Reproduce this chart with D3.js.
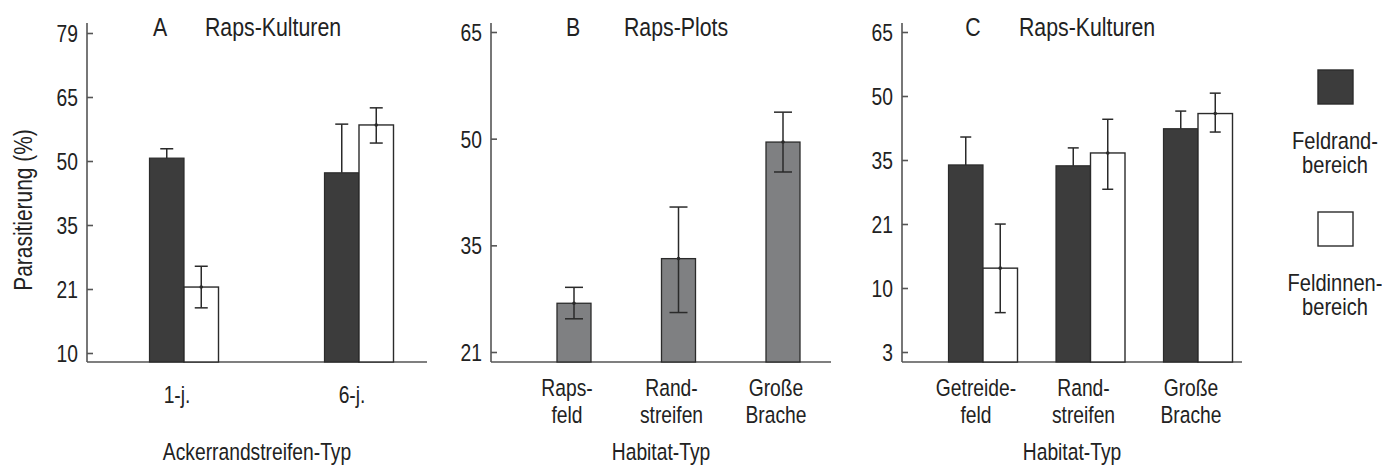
<!DOCTYPE html>
<html>
<head>
<meta charset="utf-8">
<script src="https://cdn.jsdelivr.net/npm/d3@7"></script>
<style>
  html, body { margin: 0; padding: 0; background: #fff; }
  svg { display: block; }
  text { font-family: "Liberation Sans", Arial, Helvetica, sans-serif; fill: #222; }
</style>
</head>
<body>
<svg id="chart" width="1382" height="465"></svg>
<script>
// ---------- DATA (percent parasitism; axis is arcsine-sqrt scaled) ----------
// Panel A – Raps-Kulturen by Ackerrandstreifen-Typ
const aCategories = ["1-j.", "6-j."];
const aFeldrand = [50.7, 47.1];
const aFeldrandUpper = [53.0, 59.0];
const aFeldinnen = [21.0, 58.8];
const aFeldinnenUpper = [25.3, 62.9];
const aFeldinnenLower = [17.0, 54.4];
const aTickLabels = ["10", "21", "35", "50", "65", "79"];
const aTickDeg = [18, 27, 36, 45, 54, 63];

// Panel B – Raps-Plots by Habitat-Typ
const bCategories = ["Raps-|feld", "Rand-|streifen", "Große|Brache"];
const bValues = [26.7, 32.7, 49.5];
const bUpper = [28.8, 40.0, 53.9];
const bLower = [24.7, 25.5, 45.1];
const bTickLabels = ["21", "35", "50", "65"];
const bTickDeg = [27, 36, 45, 54];

// Panel C – Raps-Kulturen by Habitat-Typ
const cCategories = ["Getreide-|feld", "Rand-|streifen", "Große|Brache"];
const cFeldrand = [33.4, 33.2, 42.0];
const cFeldrandUpper = [40.0, 37.4, 46.3];
const cFeldinnen = [12.6, 36.2, 45.7];
const cFeldinnenUpper = [20.6, 44.3, 50.7];
const cFeldinnenLower = [6.3, 27.9, 41.2];
const cTickLabels = ["3", "10", "21", "35", "50", "65"];
const cTickDeg = [9, 18, 27, 36, 45, 54];

const legendLabels = ["Feldrand-|bereich", "Feldinnen-|bereich"];

// ---------- STYLE ----------
const DARK = "#3c3c3c";
const GREY = "#7f8082";
const AXIS = "#555";
const LINE = "#2a2a2a";
const FS = 23.5;
const TS = 26;
const SX = 0.82; // horizontal condensing (Helvetica Condensed look)

const asinDeg = p => Math.asin(Math.sqrt(p / 100)) * 180 / Math.PI;
const svg = d3.select("#chart");

function addText(parent, x, y, str, size, anchor = "middle", rotate = 0) {
  return parent.append("text")
    .attr("transform", `translate(${x},${y}) rotate(${rotate}) scale(${SX},1)`)
    .attr("text-anchor", anchor).style("font-size", size + "px").text(str);
}

function drawAxis(cfg) {
  const g = svg.append("g");
  const y = d3.scaleLinear().domain(cfg.deg).range(cfg.range);
  g.append("line").attr("x1", cfg.x0).attr("x2", cfg.x0).attr("y1", cfg.top).attr("y2", cfg.base)
    .attr("stroke", AXIS).attr("stroke-width", 1.6);
  g.append("line").attr("x1", cfg.x0).attr("x2", cfg.x1).attr("y1", cfg.base).attr("y2", cfg.base)
    .attr("stroke", AXIS).attr("stroke-width", 1.6);
  const ax = d3.axisRight(y).tickValues(cfg.tickDeg).tickFormat((d, i) => cfg.labels[i]).tickSize(6).tickPadding(0);
  const ag = g.append("g").attr("transform", `translate(${cfg.x0},0)`).call(ax);
  ag.select(".domain").remove();
  ag.selectAll(".tick line").attr("stroke", AXIS).attr("stroke-width", 1.6);
  ag.selectAll(".tick text").attr("x", 0).attr("dy", "0.36em").attr("text-anchor", "end")
    .attr("transform", `translate(-9,0) scale(${SX},1)`)
    .style("font-size", FS + "px").attr("fill", "#222");
  return { g, y };
}

function errBar(g, x, yTop, yBot, cap, lowerCap) {
  g.append("line").attr("x1", x).attr("x2", x).attr("y1", yTop).attr("y2", yBot).attr("stroke", LINE).attr("stroke-width", 1.5);
  g.append("line").attr("x1", x - cap / 2).attr("x2", x + cap / 2).attr("y1", yTop).attr("y2", yTop).attr("stroke", LINE).attr("stroke-width", 1.5);
  if (lowerCap)
    g.append("line").attr("x1", x - cap / 2).attr("x2", x + cap / 2).attr("y1", yBot).attr("y2", yBot).attr("stroke", LINE).attr("stroke-width", 1.5);
}

function catLabels(g, xs, cats, y1, y2) {
  cats.forEach((c, i) => {
    const lines = c.split("|");
    const cx = xs(i) - 7;
    if (lines.length > 1) {
      addText(g, cx, y1, lines[0], FS);
      addText(g, cx, y2, lines[1], FS);
    } else {
      addText(g, cx, y1 + 7, lines[0], FS);
    }
  });
}

// ---------- PANEL A ----------
{
  const cfg = { x0: 87, x1: 427, top: 23, base: 362, deg: [18, 63], range: [353, 33], tickDeg: aTickDeg, labels: aTickLabels };
  const { g, y } = drawAxis(cfg);
  const x = d3.scalePoint().domain(d3.range(aCategories.length)).range([184, 359]);
  const bw = 34.5, cap = 13;
  aCategories.forEach((c, i) => {
    const cx = x(i);
    g.append("rect").attr("x", cx - bw).attr("width", bw).attr("y", y(asinDeg(aFeldrand[i])))
      .attr("height", cfg.base - y(asinDeg(aFeldrand[i]))).attr("fill", DARK).attr("stroke", "#2b2b2b").attr("stroke-width", 1.2);
    errBar(g, cx - bw / 2, y(asinDeg(aFeldrandUpper[i])), y(asinDeg(aFeldrand[i])), cap, false);
    g.append("rect").attr("x", cx).attr("width", bw).attr("y", y(asinDeg(aFeldinnen[i])))
      .attr("height", cfg.base - y(asinDeg(aFeldinnen[i]))).attr("fill", "#fff").attr("stroke", "#2b2b2b").attr("stroke-width", 1.4);
    errBar(g, cx + bw / 2, y(asinDeg(aFeldinnenUpper[i])), y(asinDeg(aFeldinnenLower[i])), cap, true);
    g.append("circle").attr("cx", cx + bw / 2).attr("cy", y(asinDeg(aFeldinnen[i]))).attr("r", 1.8).attr("fill", LINE);
  });
  catLabels(g, x, aCategories, 396, 423);
  addText(g, 257, 460, "Ackerrandstreifen-Typ", FS);
  addText(g, 160, 36, "A", TS);
  addText(g, 273, 36, "Raps-Kulturen", TS);
  addText(g, 32, 210, "Parasitierung (%)", 25.5, "middle", -90);
}

// ---------- PANEL B ----------
{
  const cfg = { x0: 491, x1: 831, top: 23, base: 362, deg: [27, 54], range: [352, 32], tickDeg: bTickDeg, labels: bTickLabels };
  const { g, y } = drawAxis(cfg);
  const x = d3.scalePoint().domain(d3.range(bCategories.length)).range([574, 783]);
  const bw = 34, cap = 18;
  bCategories.forEach((c, i) => {
    const cx = x(i);
    g.append("rect").attr("x", cx - bw / 2).attr("width", bw).attr("y", y(asinDeg(bValues[i])))
      .attr("height", cfg.base - y(asinDeg(bValues[i]))).attr("fill", GREY).attr("stroke", "#2b2b2b").attr("stroke-width", 1.3);
    errBar(g, cx, y(asinDeg(bUpper[i])), y(asinDeg(bLower[i])), cap, true);
    g.append("circle").attr("cx", cx).attr("cy", y(asinDeg(bValues[i]))).attr("r", 1.8).attr("fill", LINE);
  });
  catLabels(g, x, bCategories, 396, 423);
  addText(g, 661, 460, "Habitat-Typ", FS);
  addText(g, 573, 36, "B", TS);
  addText(g, 676, 36, "Raps-Plots", TS);
}

// ---------- PANEL C ----------
{
  const cfg = { x0: 902, x1: 1242, top: 23, base: 362, deg: [9, 54], range: [352, 32], tickDeg: cTickDeg, labels: cTickLabels };
  const { g, y } = drawAxis(cfg);
  const x = d3.scalePoint().domain(d3.range(cCategories.length)).range([983, 1198]);
  const bw = 34.5, cap = 11;
  cCategories.forEach((c, i) => {
    const cx = x(i);
    g.append("rect").attr("x", cx - bw).attr("width", bw).attr("y", y(asinDeg(cFeldrand[i])))
      .attr("height", cfg.base - y(asinDeg(cFeldrand[i]))).attr("fill", DARK).attr("stroke", "#2b2b2b").attr("stroke-width", 1.2);
    errBar(g, cx - bw / 2, y(asinDeg(cFeldrandUpper[i])), y(asinDeg(cFeldrand[i])), cap, false);
    g.append("rect").attr("x", cx).attr("width", bw).attr("y", y(asinDeg(cFeldinnen[i])))
      .attr("height", cfg.base - y(asinDeg(cFeldinnen[i]))).attr("fill", "#fff").attr("stroke", "#2b2b2b").attr("stroke-width", 1.4);
    errBar(g, cx + bw / 2, y(asinDeg(cFeldinnenUpper[i])), y(asinDeg(cFeldinnenLower[i])), cap, true);
    g.append("circle").attr("cx", cx + bw / 2).attr("cy", y(asinDeg(cFeldinnen[i]))).attr("r", 1.8).attr("fill", LINE);
  });
  catLabels(g, x, cCategories, 396, 423);
  addText(g, 1072, 460, "Habitat-Typ", FS);
  addText(g, 973, 36, "C", TS);
  addText(g, 1087, 36, "Raps-Kulturen", TS);
}

// ---------- LEGEND ----------
{
  const g = svg.append("g");
  const fills = [DARK, "#fff"];
  const ly = d3.scalePoint().domain(d3.range(legendLabels.length)).range([70, 212]);
  legendLabels.forEach((lab, i) => {
    const top = ly(i);
    const lines = lab.split("|");
    g.append("rect").attr("x", 1318).attr("y", top).attr("width", 35).attr("height", 34)
      .attr("fill", fills[i]).attr("stroke", "#2b2b2b").attr("stroke-width", 1.4);
    addText(g, 1335, top + 79, lines[0], 24.5);
    addText(g, 1335, top + 103, lines[1], 24.5);
  });
}
</script>
</body>
</html>
